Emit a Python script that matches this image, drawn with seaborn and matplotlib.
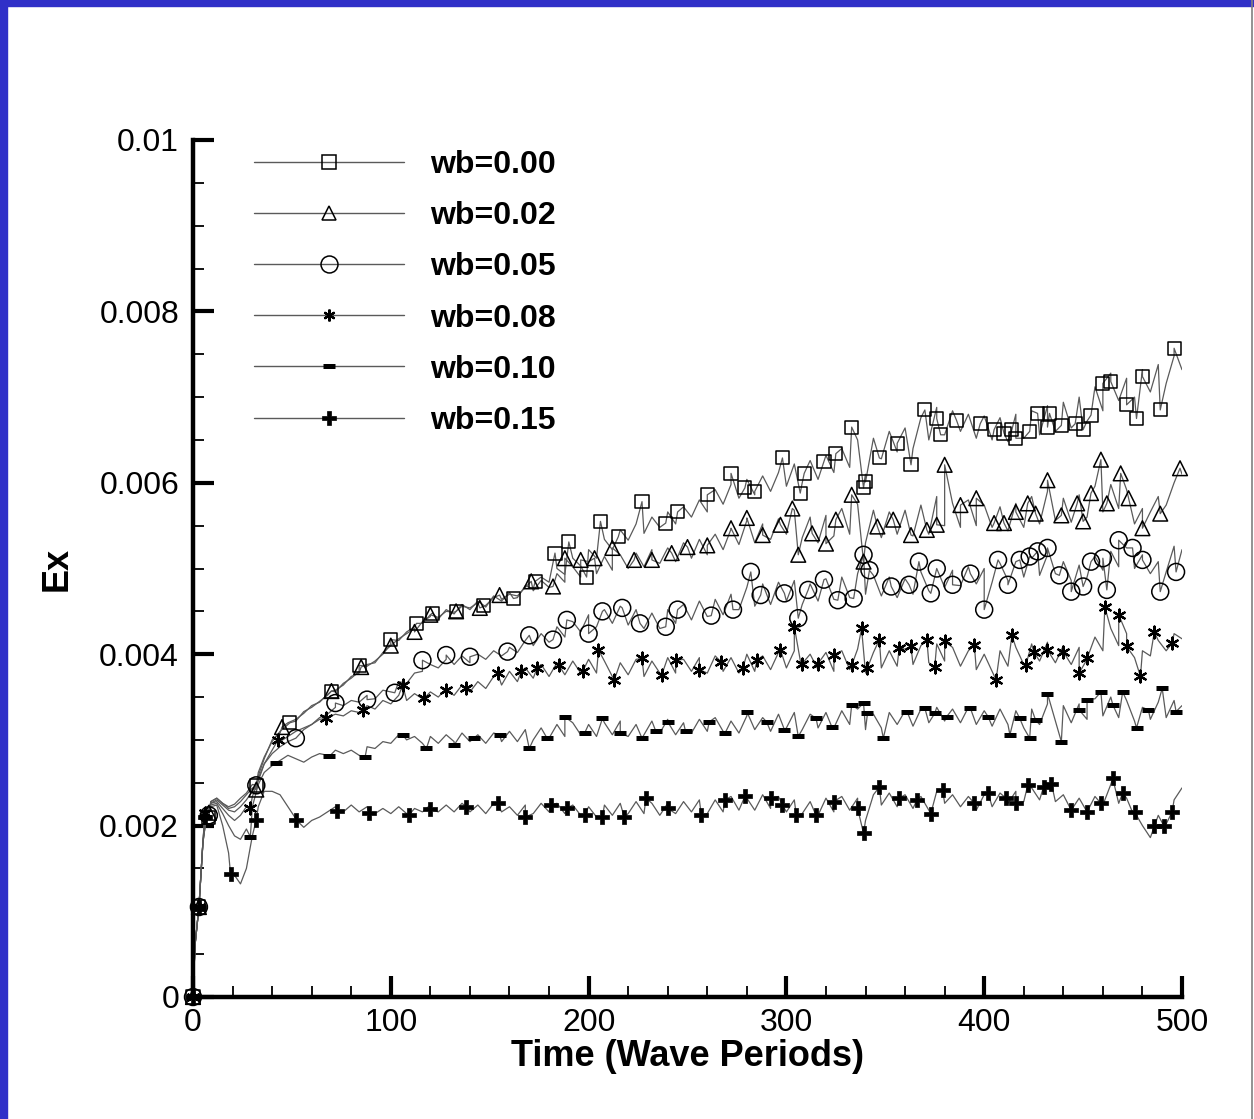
import numpy as np
import pandas as pd
import matplotlib
matplotlib.use('Agg')
import matplotlib.pyplot as plt
import seaborn as sns
from matplotlib.lines import Line2D
from matplotlib.patches import Rectangle
from matplotlib.ticker import MultipleLocator

sns.set_theme(style='white')
plt.rcParams['font.family'] = ['Liberation Sans', 'DejaVu Sans']
plt.rcParams['text.color'] = 'black'
plt.rcParams['axes.labelcolor'] = 'black'
plt.rcParams['xtick.color'] = 'black'
plt.rcParams['ytick.color'] = 'black'

# values are in units of 1e-5 (Ex)
SCALE = 1e-5

# sampling times of the noisy lines
t_line = [0, 1, 3, 5, 7, 9, 12, 15, 18, 21, 24, 27, 30, 33, 36] + list(range(40, 501, 4))

ex00_line = [0, 60, 105, 180, 215, 228, 232, 226, 222, 225, 232, 238, 248, 262, 280,
             298, 310, 318, 322, 333, 338, 345, 352, 356, 366,
             372, 380, 386, 392, 400, 412, 416, 426, 432, 436,
             446, 441, 452, 447, 458, 452, 462, 455, 468, 462,
             472, 466, 480, 476, 490, 484, 500, 493, 512, 503,
             522, 512, 534, 522, 545, 533, 552, 541, 560, 548,
             566, 552, 572, 560, 580, 566, 592, 575, 598, 582,
             604, 586, 608, 590, 612, 596, 622, 600, 626, 604,
             632, 612, 640, 618, 650, 610, 652, 628, 660, 636,
             664, 640, 676, 650, 688, 656, 684, 660, 680, 652,
             678, 650, 676, 648, 680, 652, 684, 656, 690, 660,
             694, 664, 700, 672, 712, 684, 728, 696, 722, 700,
             732, 706, 738, 716, 748, 732]
ex02_line = [0, 60, 105, 180, 215, 228, 232, 226, 220, 222, 228, 236, 244, 258, 278,
             300, 308, 320, 324, 331, 340, 344, 353, 358, 364,
             374, 378, 388, 390, 402, 410, 418, 424, 430, 438,
             444, 443, 450, 449, 456, 454, 460, 457, 466, 464,
             470, 468, 478, 474, 486, 478, 494, 484, 502, 490,
             508, 494, 514, 498, 516, 500, 518, 502, 522, 506,
             524, 508, 530, 512, 534, 516, 540, 522, 546, 528,
             556, 530, 552, 534, 558, 540, 568, 536, 560, 530,
             562, 538, 570, 540, 575, 530, 568, 536, 566, 540,
             568, 538, 574, 540, 584, 550, 576, 548, 580, 550,
             574, 548, 572, 544, 576, 548, 584, 552, 590, 556,
             582, 554, 586, 560, 596, 566, 598, 570, 592, 552,
             570, 566, 584, 574, 600, 610]
ex05_line = [0, 60, 105, 180, 214, 226, 230, 224, 218, 216, 222, 230, 240, 255, 272,
             284, 292, 298, 302, 312, 318, 326, 330, 338, 340,
             346, 344, 352, 348, 358, 356, 368, 366, 378, 380,
             388, 384, 394, 388, 398, 390, 400, 394, 404, 398,
             408, 402, 416, 410, 424, 414, 432, 420, 438, 426,
             446, 432, 452, 436, 456, 434, 452, 430, 448, 430,
             452, 436, 458, 440, 462, 444, 464, 446, 470, 452,
             478, 456, 482, 458, 484, 462, 486, 458, 482, 462,
             488, 464, 490, 466, 494, 470, 492, 468, 490, 466,
             488, 470, 496, 474, 500, 478, 498, 480, 502, 482,
             500, 484, 506, 486, 508, 490, 512, 492, 516, 494,
             508, 486, 504, 490, 514, 498, 520, 502, 524, 500,
             516, 494, 508, 496, 526, 522]
ex08_line = [0, 60, 105, 180, 214, 226, 228, 220, 212, 206, 212, 222, 234, 252, 272,
             288, 298, 304, 310, 314, 318, 324, 326, 330, 328,
             334, 332, 340, 336, 346, 342, 352, 346, 354, 348,
             356, 350, 360, 352, 364, 356, 368, 360, 374, 364,
             380, 368, 384, 372, 388, 374, 390, 376, 392, 378,
             394, 378, 392, 374, 390, 376, 394, 374, 392, 378,
             396, 378, 394, 380, 396, 378, 398, 380, 396, 378,
             400, 380, 398, 382, 402, 384, 404, 380, 400, 382,
             402, 380, 404, 382, 406, 378, 402, 384, 404, 386,
             406, 388, 410, 390, 412, 392, 408, 386, 404, 382,
             400, 380, 404, 386, 408, 388, 412, 392, 414, 390,
             410, 388, 408, 394, 420, 404, 430, 410, 424, 396,
             404, 398, 416, 404, 424, 418]
ex10_line = [0, 60, 105, 180, 213, 224, 226, 214, 200, 188, 184, 196, 222, 248, 262,
             270, 276, 282, 278, 274, 280, 284, 282, 288, 284,
             288, 282, 292, 290, 298, 296, 306, 300, 304, 296,
             304, 296, 306, 298, 308, 298, 306, 296, 308, 298,
             310, 298, 312, 300, 314, 302, 318, 304, 320, 306,
             318, 304, 320, 306, 322, 304, 318, 306, 322, 308,
             324, 306, 320, 308, 324, 310, 326, 310, 322, 308,
             328, 312, 326, 310, 330, 314, 332, 312, 330, 314,
             332, 314, 334, 318, 336, 312, 330, 314, 332, 318,
             334, 316, 336, 320, 338, 322, 336, 320, 338, 318,
             334, 316, 336, 318, 334, 314, 336, 318, 342, 322,
             340, 320, 342, 324, 348, 328, 350, 326, 346, 322,
             338, 324, 344, 326, 346, 340]
ex15_line = [0, 60, 105, 180, 212, 222, 224, 200, 168, 142, 132, 150, 188, 222, 240,
             240, 236, 222, 208, 198, 206, 210, 216, 222, 216,
             224, 216, 222, 214, 220, 214, 222, 214, 220, 216,
             224, 216, 224, 216, 226, 216, 224, 214, 226, 216,
             222, 212, 224, 214, 226, 216, 226, 214, 224, 212,
             222, 210, 224, 212, 226, 214, 228, 214, 226, 212,
             226, 214, 228, 216, 230, 214, 230, 216, 234, 218,
             232, 218, 236, 220, 234, 216, 230, 214, 228, 212,
             232, 216, 234, 218, 232, 206, 236, 224, 238, 222,
             236, 220, 234, 218, 240, 226, 236, 222, 234, 218,
             236, 222, 238, 226, 240, 228, 244, 230, 246, 228,
             236, 218, 232, 216, 234, 224, 248, 226, 232, 210,
             200, 186, 212, 202, 230, 244]

# symbol positions (time, Ex in 1e-5)
t00_mark = [0, 3, 8, 32, 49, 70, 84, 100, 113, 121, 133, 147, 162, 173, 183, 190, 199, 206,
            215, 227, 239, 245, 260, 272, 279, 284, 298, 307, 309, 319, 325, 333, 339, 340,
            347, 356, 363, 370, 376, 378, 386, 398, 405, 410, 414, 416, 423, 427, 432, 433,
            439, 446, 450, 454, 460, 464, 472, 477, 480, 489, 496]
ex00_mark = [0, 105, 210, 247, 320, 357, 387, 417, 436, 448, 450, 457, 465, 485, 518, 531, 490, 555,
             537, 578, 553, 566, 586, 611, 594, 590, 629, 588, 611, 625, 634, 665, 594, 601,
             629, 646, 621, 685, 675, 656, 673, 669, 662, 658, 662, 652, 660, 681, 665, 681,
             667, 669, 662, 679, 716, 718, 691, 675, 724, 685, 757]
t02_mark = [0, 3, 8, 32, 45, 70, 85, 100, 112, 120, 133, 145, 155, 171, 182, 188, 196, 203,
            212, 223, 232, 242, 250, 260, 272, 280, 288, 297, 303, 306, 313, 320, 325, 333,
            339, 346, 354, 363, 371, 376, 380, 388, 396, 405, 410, 416, 422, 426, 432, 439,
            447, 450, 454, 459, 462, 469, 473, 480, 489, 499]
ex02_mark = [0, 105, 215, 242, 315, 357, 385, 410, 426, 446, 450, 454, 469, 485, 479, 512, 510, 512,
             524, 510, 510, 518, 525, 527, 547, 559, 539, 551, 570, 516, 541, 529, 557, 586,
             508, 549, 557, 539, 545, 551, 621, 574, 582, 553, 553, 566, 576, 564, 603, 562,
             576, 555, 588, 627, 576, 611, 582, 547, 564, 617]
t05_mark = [0, 3, 8, 32, 52, 72, 88, 102, 116, 128, 140, 159, 170, 182, 189, 200, 207, 217,
            226, 239, 245, 262, 273, 282, 287, 299, 306, 311, 319, 326, 334, 339, 342, 353,
            362, 367, 373, 376, 384, 393, 400, 407, 412, 418, 423, 427, 432, 438, 444, 450,
            454, 460, 462, 468, 475, 480, 489, 497]
ex05_mark = [0, 105, 212, 247, 302, 343, 347, 355, 393, 399, 397, 403, 422, 417, 440, 424, 450, 454,
             436, 432, 452, 445, 452, 496, 469, 471, 442, 475, 487, 463, 465, 516, 498, 479,
             481, 508, 471, 500, 481, 494, 452, 510, 481, 510, 514, 520, 524, 492, 473, 479,
             508, 512, 475, 533, 524, 510, 473, 496]
t08_mark = [0, 3, 6, 29, 43, 67, 86, 106, 117, 128, 138, 154, 166, 174, 185, 197, 205, 213,
            227, 237, 244, 256, 267, 278, 285, 297, 304, 308, 316, 324, 333, 338, 341, 347,
            357, 363, 371, 375, 380, 395, 406, 414, 421, 425, 432, 440, 448, 452, 461, 468,
            472, 479, 486, 495]
ex08_mark = [0, 105, 215, 220, 300, 325, 335, 364, 349, 358, 360, 378, 380, 384, 387, 380, 405, 370,
             395, 376, 393, 382, 391, 384, 393, 405, 432, 389, 389, 399, 387, 430, 384, 417,
             407, 409, 417, 385, 415, 411, 370, 422, 387, 403, 405, 403, 378, 395, 455, 446,
             409, 374, 426, 413]
t10_mark = [0, 3, 6, 29, 42, 69, 87, 106, 118, 132, 142, 155, 170, 179, 188, 198, 207, 216,
            227, 234, 240, 249, 261, 269, 280, 290, 299, 306, 315, 323, 333, 339, 341, 349,
            361, 370, 375, 381, 393, 402, 413, 418, 423, 426, 432, 439, 448, 452, 459, 465,
            470, 477, 483, 490, 497]
ex10_mark = [0, 105, 210, 187, 273, 281, 280, 306, 290, 294, 302, 306, 290, 302, 327, 308, 325, 308,
             302, 310, 321, 310, 321, 308, 333, 321, 312, 304, 325, 315, 341, 343, 331, 302,
             333, 337, 331, 327, 337, 327, 306, 325, 302, 323, 354, 298, 335, 347, 356, 341,
             356, 314, 335, 360, 333]
t15_mark = [0, 3, 6, 19, 32, 52, 73, 89, 109, 120, 138, 154, 168, 181, 189, 198, 207, 218,
            229, 240, 257, 269, 279, 292, 298, 305, 315, 324, 336, 339, 347, 357, 366, 373,
            379, 395, 402, 411, 416, 422, 430, 434, 444, 452, 459, 465, 470, 476, 486, 491, 495]
ex15_mark = [0, 105, 210, 143, 207, 207, 217, 215, 212, 219, 222, 226, 210, 224, 220, 212, 210, 210,
             232, 220, 212, 230, 234, 232, 224, 212, 212, 228, 220, 191, 245, 232, 230, 214,
             242, 226, 238, 232, 226, 247, 245, 249, 218, 216, 226, 255, 238, 216, 199, 199, 216]

labels = ['wb=0.00', 'wb=0.02', 'wb=0.05', 'wb=0.08', 'wb=0.10', 'wb=0.15']
y_ticks = [0, 0.002, 0.004, 0.006, 0.008, 0.01]
y_ticklabels = ['0', '0.002', '0.004', '0.006', '0.008', '0.01']

lines = [ex00_line, ex02_line, ex05_line, ex08_line, ex10_line, ex15_line]
marks = [(t00_mark, ex00_mark), (t02_mark, ex02_mark), (t05_mark, ex05_mark),
         (t08_mark, ex08_mark), (t10_mark, ex10_mark), (t15_mark, ex15_mark)]

LINE_C = '#5a5a5a'
# marker, size (pt), filled?, edge width
styles = [('s', 9.4, False, 1.1),
          ('^', 10.6, False, 1.1),
          ('o', 12.2, False, 1.1),
          ((6, 2, 0), 8.5, False, 1.6),
          ('_', 8.8, False, 3.6),
          ('P', 9.6, True, 0.5)]

fig = plt.figure(figsize=(12.54, 11.19), dpi=100)
ax = fig.add_axes([193 / 1254, 1 - 997 / 1119, (1182 - 193) / 1254, (997 - 140) / 1119])

for lab, yl, (tm, ym), (mk, ms, filled, mew) in zip(labels, lines, marks, styles):
    df = pd.concat([pd.DataFrame({'t': t_line, 'Ex': yl}),
                    pd.DataFrame({'t': tm, 'Ex': ym})])
    df = df.sort_values('t', kind='stable')
    df['Ex'] = df['Ex'] * SCALE
    sns.lineplot(data=df, x='t', y='Ex', estimator=None, sort=False, ax=ax,
                 color=LINE_C, lw=0.9, zorder=2)

for lab, (tm, ym), (mk, ms, filled, mew) in zip(labels, marks, styles):
    dm = pd.DataFrame({'t': tm, 'Ex': np.array(ym) * SCALE})
    if mk in ('_',) or isinstance(mk, tuple):
        sns.scatterplot(data=dm, x='t', y='Ex', ax=ax, marker=mk, s=ms ** 2,
                        color='black', linewidth=mew, zorder=3, clip_on=False)
    else:
        sns.scatterplot(data=dm, x='t', y='Ex', ax=ax, marker=mk, s=ms ** 2,
                        facecolor='black' if filled else 'none', edgecolor='black',
                        linewidth=mew, zorder=3, clip_on=False)

ax.set_xlim(0, 500)
ax.set_ylim(0, 0.01)
ax.xaxis.set_major_locator(MultipleLocator(100))
ax.xaxis.set_minor_locator(MultipleLocator(20))
ax.set_yticks(y_ticks)
ax.set_yticklabels(y_ticklabels)
ax.yaxis.set_minor_locator(MultipleLocator(0.0005))

for side in ['top', 'right']:
    ax.spines[side].set_visible(False)
for side in ['left', 'bottom']:
    ax.spines[side].set_linewidth(3.2)
    ax.spines[side].set_color('black')
ax.spines['left'].set_bounds(0, 0.01)
ax.tick_params(which='major', direction='in', length=15, width=3, color='black',
               labelsize=23, labelcolor='black')
ax.tick_params(which='minor', direction='in', length=8, width=1.3, color='black')
ax.tick_params(axis='y', which='both', left=True, pad=10)
ax.tick_params(axis='x', which='both', bottom=True, pad=8)
ax.set_facecolor('white')
ax.grid(False)

ax.set_xlabel('Time (Wave Periods)', fontsize=26, fontweight='bold', labelpad=1, color='black')
ax.set_ylabel('Ex', fontsize=26, fontweight='bold', labelpad=18, color='black')

handles = []
for (mk, ms, filled, mew) in styles:
    handles.append(Line2D([0], [0], color=LINE_C, lw=1.0, marker=mk, markersize=ms,
                          markerfacecolor='black' if filled else 'none',
                          markeredgecolor='black', markeredgewidth=mew))
leg = ax.legend(handles, labels, loc='upper left', bbox_to_anchor=(0.062, 0.988),
                frameon=False, handlelength=4.7, handletextpad=0.8, labelspacing=0.66,
                borderpad=0, borderaxespad=0, labelcolor='black',
                prop={'size': 23, 'weight': 'bold', 'family': ['Liberation Sans', 'DejaVu Sans']})

# blue frame of the original screenshot
fig.add_artist(Rectangle((0, 0), 7 / 1254, 1, transform=fig.transFigure,
                         color='#3030C8', zorder=10))
fig.add_artist(Rectangle((0, 1 - 6 / 1119), 1, 6 / 1119, transform=fig.transFigure,
                         color='#3030C8', zorder=10))
fig.add_artist(Line2D([1 - 2 / 1254, 1 - 2 / 1254], [0, 1], transform=fig.transFigure,
                      color='#808080', lw=1.2, zorder=10))

fig.savefig('out.png', dpi=100, facecolor='white')
